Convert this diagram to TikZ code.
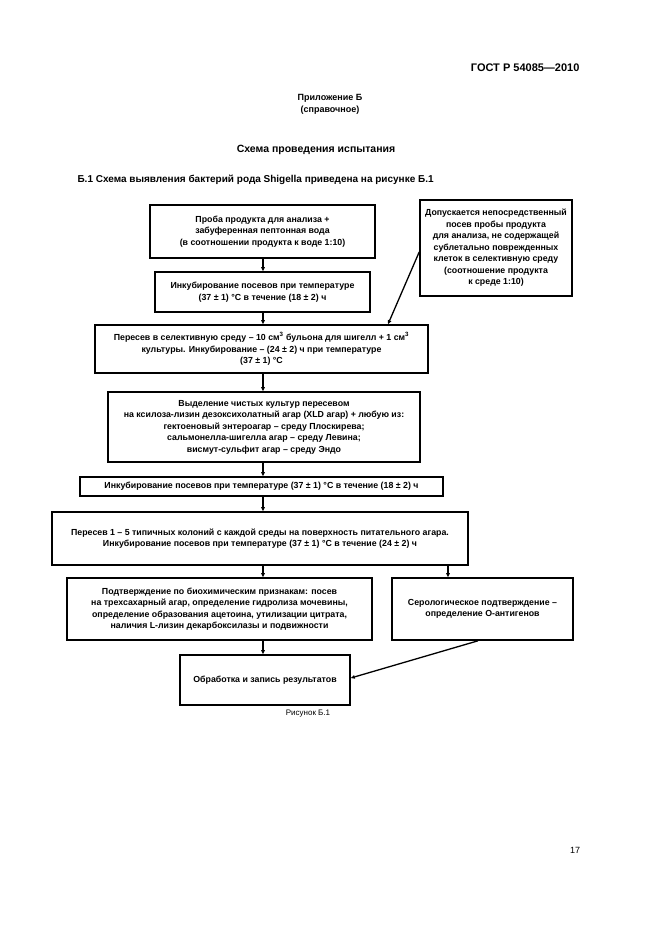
\documentclass[tikz,border=0pt]{standalone}
\usepackage{fontspec}
\setmainfont{Liberation Sans}
\usetikzlibrary{arrows.meta}

\tikzset{
  blok/.style={draw, line width=1.6pt, align=center, inner sep=2pt,
    font=\fontsize{8.8}{11.5}\selectfont\bfseries},
  strelka/.style={-{Triangle[length=4pt,width=3.5pt]}, line width=1.3pt},
}

\begin{document}
\begin{tikzpicture}[x=1pt,y=-1pt]
        \useasboundingbox (0,0) rectangle (661,936);
        % page header
        \node[anchor=east, font=\fontsize{11}{13}\selectfont\bfseries] (gost) at (583,68) {ГОСТ Р 54085---2010};
        \node[align=center, font=\fontsize{9}{12}\selectfont\bfseries] (pril) at (330,104) {Приложение Б\\(справочное)};
        \node[font=\fontsize{10.5}{12}\selectfont\bfseries] (shema) at (316,150) {Схема проведения испытания};
        \node[anchor=west, font=\fontsize{10}{12}\selectfont\bfseries] (punkt) at (74,180) {Б.1 Схема выявления бактерий рода Shigella приведена на рисунке Б.1};

        % boxes
        \node[blok, minimum width=225, minimum height=53] (proba) at (262.5,231.5)
            {Проба продукта для анализа +\\забуференная пептонная вода\\(в соотношении продукта к воде 1:10)};
        \node[blok, minimum width=215, minimum height=40] (inkub1) at (262.5,292)
            {Инкубирование посевов при температуре\\(37 ± 1) °С в течение (18 ± 2) ч};
        \node[blok, minimum width=152, minimum height=96] (dop) at (496,248)
            {Допускается непосредственный\\посев пробы продукта\\для анализа, не содержащей\\сублетально поврежденных\\клеток в селективную среду\\(соотношение продукта\\к среде 1:10)};
        \node[blok, minimum width=333, minimum height=48] (peresev1) at (261.5,349)
            {Пересев в селективную среду -- 10 см\textsuperscript{3} бульона для шигелл + 1 см\textsuperscript{3}\\культуры. Инкубирование -- (24 ± 2) ч при температуре\\(37 ± 1) °С};
        \node[blok, minimum width=312, minimum height=70] (vydel) at (264,427)
            {Выделение чистых культур пересевом\\на ксилоза-лизин дезоксихолатный агар (XLD агар) + любую из:\\гектоеновый энтероагар -- среду Плоскирева;\\сальмонелла-шигелла агар -- среду Левина;\\висмут-сульфит агар -- среду Эндо};
        \node[blok, minimum width=363, minimum height=19] (inkub2) at (261.5,486.5)
            {Инкубирование посевов при температуре (37 ± 1) °С в течение (18 ± 2) ч};
        \node[blok, minimum width=416, minimum height=53] (peresev2) at (260,538.5)
            {Пересев 1 -- 5 типичных колоний с каждой среды на поверхность питательного агара.\\Инкубирование посевов при температуре (37 ± 1) °С в течение (24 ± 2) ч};
        \node[blok, minimum width=305, minimum height=62] (biohim) at (219.5,609)
            {Подтверждение по биохимическим признакам: посев\\на трехсахарный агар, определение гидролиза мочевины,\\определение образования ацетоина, утилизации цитрата,\\наличия L-лизин декарбоксилазы и подвижности};
        \node[blok, minimum width=181, minimum height=62] (serol) at (482.5,609)
            {Серологическое подтверждение --\\определение О-антигенов};
        \node[blok, minimum width=170, minimum height=50] (obrab) at (265,680)
            {Обработка и запись результатов};
        \node[font=\fontsize{8}{10}\selectfont] (ris) at (308,714) {Рисунок Б.1};
        \node[font=\fontsize{9}{11}\selectfont] (str) at (575,850) {17};

        % arrows
        \draw[strelka] (proba.south -| 263,0) -- (inkub1.north -| 263,0);
        \draw[strelka] (inkub1.south -| 263,0) -- (peresev1.north -| 263,0);
        \draw[strelka] (dop.west |- 0,252) -- (peresev1.north -| 388,0);
        \draw[strelka] (peresev1.south -| 263,0) -- (vydel.north -| 263,0);
        \draw[strelka] (vydel.south -| 263,0) -- (inkub2.north -| 263,0);
        \draw[strelka] (inkub2.south -| 263,0) -- (peresev2.north -| 263,0);
        \draw[strelka] (peresev2.south -| 263,0) -- (biohim.north -| 263,0);
        \draw[strelka] (peresev2.south -| 448,0) -- (serol.north -| 448,0);
        \draw[strelka] (biohim.south -| 263,0) -- (obrab.north -| 263,0);
        \draw[strelka] (serol.south -| 478,0) -- (obrab.east |- 0,678);
\end{tikzpicture}
\end{document}
